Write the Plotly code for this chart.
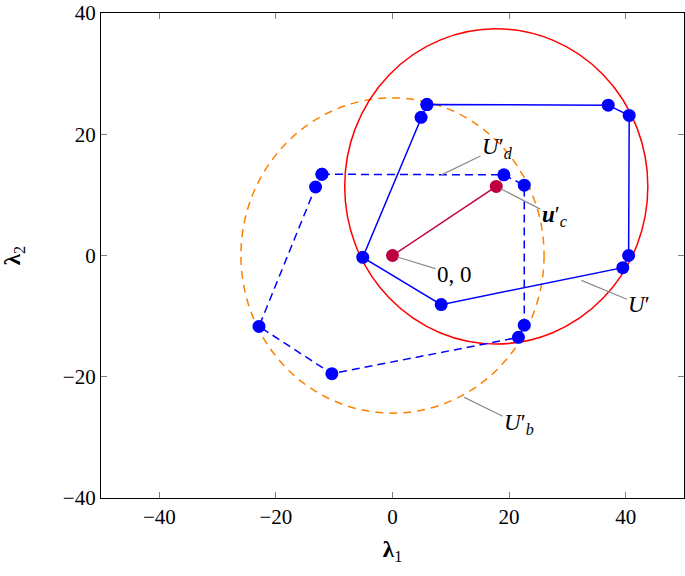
import plotly.graph_objects as go

# U' (solid polygon) vertices
u_x = [5.9, 37.0, 40.6, 40.5, 39.5, 8.35, -5.1, 4.9, 5.9]
u_y = [24.9, 24.8, 23.1, 0.0, -2.0, -8.1, -0.3, 22.8, 24.9]

# U'_d (dashed polygon) vertices
ud_x = [-12.1, 19.1, 22.6, 22.6, 21.6, -10.4, -22.9, -13.2, -12.1]
ud_y = [13.4, 13.3, 11.6, -11.5, -13.5, -19.5, -11.7, 11.3, 13.4]

# origin -> u'_c
c_x = [0.0, 17.8]
c_y = [0.0, 11.4]

# circles: (center x, center y, radius)
circle_b = (0.0, 0.0, 26.0)     # U'_b orange dashed
circle_u = (17.8, 11.4, 26.0)   # red

x_ticks = [-40, -20, 0, 20, 40]
y_ticks = [-40, -20, 0, 20, 40]

FONT = "Liberation Serif"
BLUE = "#0000FF"
PURPLE = "#BF0040"

fig = go.Figure()

fig.add_trace(go.Scatter(x=ud_x, y=ud_y, mode="lines+markers",
                         line=dict(color=BLUE, width=1.5, dash="8px,5px"),
                         marker=dict(color=BLUE, size=13), hoverinfo="skip"))
fig.add_trace(go.Scatter(x=u_x, y=u_y, mode="lines+markers",
                         line=dict(color=BLUE, width=1.5),
                         marker=dict(color=BLUE, size=13), hoverinfo="skip"))
fig.add_trace(go.Scatter(x=c_x, y=c_y, mode="lines+markers",
                         line=dict(color=PURPLE, width=1.5),
                         marker=dict(color=PURPLE, size=13), hoverinfo="skip"))

for (cx, cy, r), col, dash in [(circle_b, "#FF8000", "8px,6px"), (circle_u, "#FF0000", "solid")]:
    fig.add_shape(type="circle", xref="x", yref="y",
                  x0=cx - r, x1=cx + r, y0=cy - r, y1=cy + r,
                  line=dict(color=col, width=1.5, dash=dash), layer="below")

def pin(x, y, text, ax, ay, standoff=0):
    fig.add_annotation(x=x, y=y, text=text, showarrow=True, arrowhead=0,
                       arrowwidth=1.2, arrowcolor="#8c8c8c", ax=ax, ay=ay,
                       standoff=standoff,
                       font=dict(family=FONT, size=23, color="black"))

pin(8.4, 13.3, "<i>U</i>′<sub><i>d</i></sub>", 56, -27)
pin(c_x[1], c_y[1], "<b><i>u</i></b>′<sub><i>c</i></sub>", 58, 30, standoff=5)
pin(c_x[0], c_y[0], "0, 0", 62, 19, standoff=5)
pin(32.4, -4.1, "<i>U</i>′", 58, 24)
pin(12.3, -23.4, "<i>U</i>′<sub><i>b</i></sub>", 55, 27)

axis_common = dict(showline=True, linecolor="black", linewidth=1.3, mirror="ticks",
                   ticks="inside", ticklen=6, tickcolor="#808080", tickwidth=1,
                   showgrid=False, zeroline=False,
                   tickfont=dict(family=FONT, size=21, color="black"))

fig.update_layout(
    width=685, height=576,
    margin=dict(l=101, r=1, t=13, b=78),
    plot_bgcolor="white", paper_bgcolor="white",
    showlegend=False,
    xaxis=dict(range=[-50, 50], tickvals=x_ticks,
               title=dict(text="<b>λ</b><sub>1</sub>", standoff=12,
                          font=dict(family=FONT, size=23, color="black")),
               **axis_common),
    yaxis=dict(range=[-40, 40], tickvals=y_ticks,
               title=dict(text="<b>λ</b><sub>2</sub>", standoff=36,
                          font=dict(family=FONT, size=23, color="black")),
               **axis_common),
)

fig.write_html("out.html", config={"displayModeBar": False},
               post_script="document.body.style.margin='0';")
